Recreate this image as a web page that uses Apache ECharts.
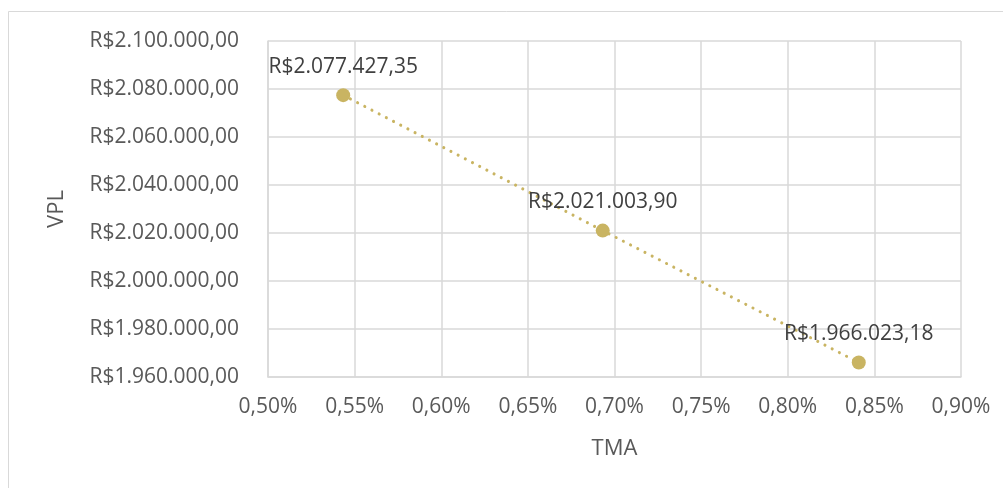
<!DOCTYPE html>
<html>
<head>
<meta charset="utf-8">
<script src="https://cdn.jsdelivr.net/npm/echarts@6/dist/echarts.min.js"></script>
<style>
  html, body { margin: 0; padding: 0; background: #fff; }
  #chart { width: 1003px; height: 488px; }
</style>
</head>
<body>
<div id="chart"></div>
<script>
// TMA (% ao mês) versus VPL
const tmaValues = [0.5434, 0.6932, 0.8410];
const vplValues = [2077427.35, 2021003.90, 1966023.18];
const xTicks = { min: 0.5, max: 0.9, step: 0.05 };
const yTicks = { min: 1960000, max: 2100000, step: 20000 };

const FONT = '"Open Sans", sans-serif';
const TEXT = '#595959';
const GRID = '#d9d9d9';
const GOLD = '#c9b462';

function brl(v) {
  const parts = v.toFixed(2).split('.');
  const int = parts[0].replace(/\B(?=(\d{3})+(?!\d))/g, '.');
  return 'R$' + int + ',' + parts[1];
}
function pct(v) {
  return v.toFixed(2).replace('.', ',') + '%';
}

const points = tmaValues.map((x, i) => [x, vplValues[i]]);

const chart = echarts.init(document.getElementById('chart'), null, { renderer: 'canvas' });
chart.setOption({
  backgroundColor: '#ffffff',
  animation: false,
  textStyle: { fontFamily: FONT },
  graphic: [{
    type: 'rect',
    shape: { x: 8.5, y: 11.5, width: 1010, height: 500 },
    style: { fill: 'none', stroke: GRID, lineWidth: 1 },
    silent: true, z: -1
  }],
  grid: { left: 268, top: 41, right: 42, bottom: 111 },
  xAxis: {
    type: 'value',
    min: xTicks.min, max: xTicks.max, interval: xTicks.step,
    name: 'TMA', nameLocation: 'middle', nameGap: 61,
    nameTextStyle: { color: TEXT, fontSize: 22, fontFamily: FONT },
    axisLine: { show: true, lineStyle: { color: GRID, width: 1.5 } },
    axisTick: { show: false },
    axisLabel: { color: TEXT, fontSize: 21, fontFamily: FONT, margin: 20, formatter: pct },
    splitLine: { show: true, lineStyle: { color: GRID, width: 1.5 } }
  },
  yAxis: {
    type: 'value',
    min: yTicks.min, max: yTicks.max, interval: yTicks.step,
    name: 'VPL', nameLocation: 'middle', nameGap: 200, nameRotate: 90,
    nameTextStyle: { color: TEXT, fontSize: 22, fontFamily: FONT },
    axisLine: { show: true, lineStyle: { color: GRID, width: 1.5 } },
    axisTick: { show: false },
    axisLabel: { color: TEXT, fontSize: 21, fontFamily: FONT, margin: 29, formatter: brl },
    splitLine: { show: true, lineStyle: { color: GRID, width: 1.5 } }
  },
  series: [{
    type: 'line',
    data: points,
    symbol: 'circle',
    symbolSize: 14,
    itemStyle: { color: GOLD },
    lineStyle: { color: GOLD, width: 3, type: [0.1, 8], cap: 'round' },
    label: {
      show: true, position: 'top', distance: 11,
      color: '#404040', fontSize: 21, fontFamily: FONT,
      formatter: p => brl(p.value[1])
    }
  }]
});
</script>
</body>
</html>
